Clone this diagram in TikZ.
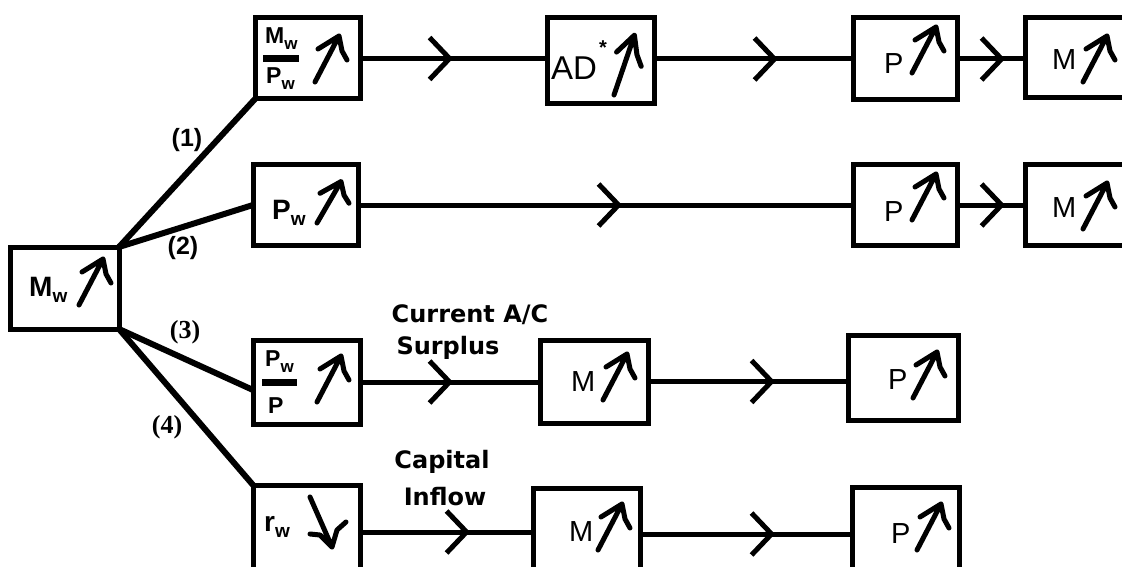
\documentclass[tikz,border=0pt]{standalone}
\usepackage{fontspec}
\setmainfont{Liberation Sans}
\newfontfamily\lblfont{DejaVu Sans}
\newfontfamily\serfont{Liberation Serif}
\usetikzlibrary{arrows.meta,decorations.markings,calc}
\newcommand\subw[1]{\raisebox{-6pt}{\fontsize{#1}{#1}\selectfont w}}
\tikzset{
  box/.style={draw, line width=5pt, inner sep=0pt, outer sep=0pt},
  conn/.style={line width=5pt},
  diag/.style={line width=6pt, line cap=round},
  chevtip/.tip={Straight Barb[length=20pt,width=42pt,line width=5pt]},
  chev/.style={postaction={decorate,decoration={markings,mark=at position #1 with {\arrow{chevtip}}}}},
  btxt/.style={font=\bfseries\fontsize{28}{28}\selectfont, inner sep=0pt, anchor=base west},
  ftxt/.style={font=\bfseries\fontsize{23}{23}\selectfont, inner sep=0pt, anchor=base west},
  rtxt/.style={font=\fontsize{29}{29}\selectfont, inner sep=0pt, anchor=base west},
  lbl/.style={font=\lblfont\bfseries\fontsize{24}{24}\selectfont, inner sep=0pt},
  num/.style={font=\bfseries\fontsize{25}{25}\selectfont, inner sep=0pt},
  snum/.style={font=\serfont\bfseries\fontsize{26}{26}\selectfont, inner sep=0pt},
  upar/.pic={\draw[line width=5pt, line cap=round, line join=round]
     (0,0) -- (24,-46) (3,-33) -- (24,-46) -- (27,-31) -- (32,-22);},
  downar/.pic={\draw[line width=5pt, line cap=round, line join=round]
     (0,0) -- (22,50) (0,37) -- (10,38) -- (22,50) -- (27,33) -- (36,25);},
}
\begin{document}
\begin{tikzpicture}[x=1pt,y=-1pt]
\clip (0,0) rectangle (1122,567);
\fill[white] (0,0) rectangle (1122,567);
% boxes
\node[box, minimum width=109pt, minimum height=82pt] (mw) at (64.5,288) {};
\node[box, minimum width=105pt, minimum height=81pt] (a1) at (307.5,58.5) {};
\node[box, minimum width=107pt, minimum height=86pt] (ad) at (600.5,61) {};
\node[box, minimum width=104pt, minimum height=82pt] (p1) at (905,59) {};
\node[box, minimum width=110pt, minimum height=80pt] (m1) at (1080,58) {};
\node[box, minimum width=105pt, minimum height=80pt] (b1) at (305.5,205) {};
\node[box, minimum width=104pt, minimum height=80pt] (p2) at (905,205) {};
\node[box, minimum width=110pt, minimum height=80pt] (m2) at (1080,205) {};
\node[box, minimum width=107pt, minimum height=84pt] (c1) at (306.5,382) {};
\node[box, minimum width=108pt, minimum height=83pt] (cm) at (594,381.5) {};
\node[box, minimum width=110pt, minimum height=85pt] (p3) at (903,377.5) {};
\node[box, minimum width=107pt, minimum height=94pt] (d1) at (306.5,532) {};
\node[box, minimum width=107pt, minimum height=92pt] (dm) at (586.5,534) {};
\node[box, minimum width=107pt, minimum height=92pt] (p4) at (905.5,533) {};
% branches
\draw[diag] (mw.north east) -- (a1.south west);
\draw[diag] (mw.north east) -- (b1.west);
\draw[diag] (mw.south east) -- ($(c1.west)+(0,8)$);
\draw[diag] (mw.south east) -- (d1.north west);
% row connectors
\draw[conn, chev=93pt] (a1.east) -- (a1.east -| ad.west);
\draw[conn, chev=124pt] (ad.east |- p1.west) -- (p1.west);
\draw[conn, chev=48pt] (p1.east) -- (p1.east -| m1.west);
\draw[conn, chev=264pt] (b1.east) -- (b1.east -| p2.west);
\draw[conn, chev=48pt] (p2.east) -- (p2.east -| m2.west);
\draw[conn, chev=93pt] (c1.east) -- (c1.east -| cm.west);
\draw[conn, chev=127pt] (cm.east) -- (cm.east -| p3.west);
\draw[conn, chev=110pt] (d1.east) -- (d1.east -| dm.west);
\draw[conn, chev=135pt] (dm.east) -- (dm.east -| p4.west);
% box texts
\node[btxt] (tmw) at (29,296) {M\subw{19}};
\node[ftxt] (ta1n) at (265,44) {M\subw{17}};
\fill (263,55) rectangle (299,62);
\node[ftxt] (ta1d) at (266,84) {P\subw{17}};
\node[btxt] (tb1) at (272,219) {P\subw{19}};
\node[ftxt] (tc1n) at (265,366) {P\subw{17}};
\fill (262,379) rectangle (297,386);
\node[ftxt] (tc1d) at (268,413) {P};
\node[btxt] (td1) at (264,531) {r\subw{19}};
\node[rtxt, font=\fontsize{33}{33}\selectfont] (tad) at (551,80) {AD};
\node[font=\bfseries\fontsize{20}{20}\selectfont, inner sep=0pt] (tstar) at (603,48) {*};
\node[rtxt] (tp1) at (884,74) {P};
\node[rtxt] (tm1) at (1052,70) {M};
\node[rtxt] (tp2) at (884,221) {P};
\node[rtxt] (tm2) at (1052,217) {M};
\node[rtxt] (tcm) at (571,391) {M};
\node[rtxt] (tp3) at (888,389) {P};
\node[rtxt] (tdm) at (569,541) {M};
\node[rtxt] (tp4) at (891,543) {P};
% glyphs
\pic at (79,305) {upar};
\pic at (315,82) {upar};
\pic[yscale=0.9] at (317,223) {upar};
\pic at (317,402) {upar};
\pic[yscale=1.3, xscale=0.85] at (614,95) {upar};
\pic at (912,73) {upar};
\pic at (1083,82) {upar};
\pic at (912,220) {upar};
\pic at (1083,229) {upar};
\pic at (603,400) {upar};
\pic at (913,398) {upar};
\pic at (598,550) {upar};
\pic at (917,550) {upar};
\pic at (310,497) {downar};
% labels
\node[num] (l1) at (187,140) {(1)};
\node[num] (l2) at (183,248) {(2)};
\node[snum] (l3) at (185,332) {(3)};
\node[snum] (l4) at (167,427) {(4)};
\node[lbl] (cur) at (470,315) {Current A/C};
\node[lbl] (sur) at (448,348) {Surplus};
\node[lbl] (cap) at (442,462) {Capital};
\node[lbl] (inf) at (445,497) {Inflow};
\end{tikzpicture}
\end{document}
